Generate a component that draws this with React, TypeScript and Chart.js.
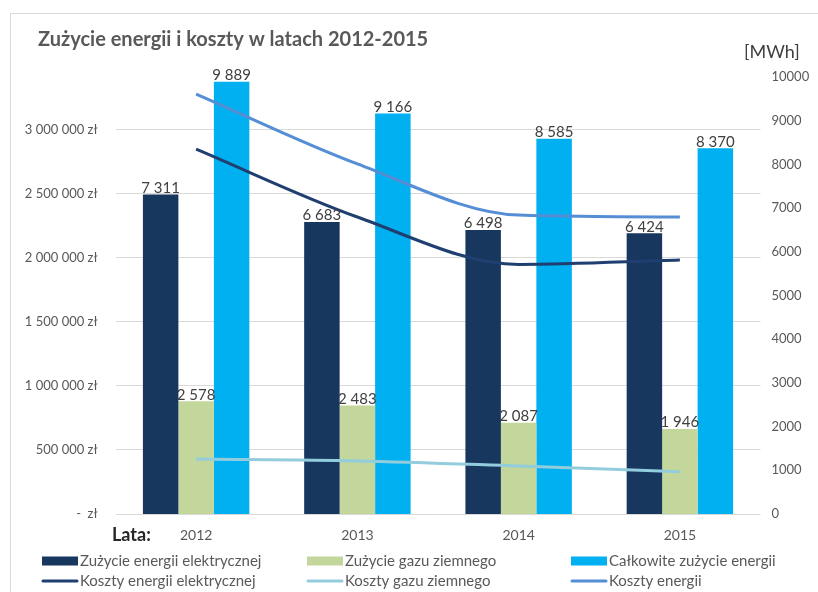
import React, { useEffect, useRef } from 'react';
import { Chart, registerables } from 'chart.js';

Chart.register(...registerables);

const years = ['2012', '2013', '2014', '2015'];
const elecUse = [7311, 6683, 6498, 6424];
const gasUse = [2578, 2483, 2087, 1946];
const totalUse = [9889, 9166, 8585, 8370];
const elecCost = [2850000, 2320000, 1950000, 1985000];
const gasCost = [430000, 415000, 375000, 330000];
const totalCost = [3280000, 2735000, 2335000, 2320000];
const costTicks = [0, 500000, 1000000, 1500000, 2000000, 2500000, 3000000];

const title = 'Zużycie energii i koszty w latach 2012-2015';
const unitLabel = '[MWh]';
const xLabel = 'Lata:';

const FONT = 'Lato, "Liberation Sans", sans-serif';
const TXT = '#595959';

const C_ELEC = '#17375E';
const C_GAS = '#C3D69B';
const C_TOTAL = '#00B0F0';
const C_LELEC = '#1F3F70';
const C_LGAS = '#93CDDD';
const C_LTOTAL = '#558ED5';

const fmtSpace = (n: number) => String(Math.round(n)).replace(/\B(?=(\d{3})+(?!\d))/g, ' ');

const decorPlugin = {
  id: 'decor',
  beforeDraw(chart: any) {
    const ctx = chart.ctx;
    ctx.save();
    ctx.fillStyle = '#ffffff';
    ctx.fillRect(0, 0, chart.width, chart.height);
    ctx.strokeStyle = '#d9d9d9';
    ctx.lineWidth = 1;
    ctx.beginPath();
    ctx.moveTo(10.5, chart.height + 5);
    ctx.lineTo(10.5, 13.5);
    ctx.lineTo(chart.width + 5, 13.5);
    ctx.stroke();
    ctx.restore();
  },
  afterDraw(chart: any) {
    const ctx = chart.ctx;
    ctx.save();
    // title
    ctx.fillStyle = TXT;
    ctx.font = `bold 20px ${FONT}`;
    ctx.textAlign = 'left';
    ctx.textBaseline = 'middle';
    ctx.fillText(title, 38, 40);
    // unit label
    ctx.font = `18px ${FONT}`;
    ctx.fillStyle = '#404040';
    ctx.fillText(unitLabel, 744, 52);
    // x label
    ctx.font = `bold 18px ${FONT}`;
    ctx.fillStyle = '#262626';
    ctx.fillText(xLabel, 112, 535);

    // data labels on bars
    ctx.font = `15px ${FONT}`;
    ctx.fillStyle = '#404040';
    ctx.textAlign = 'center';
    ctx.textBaseline = 'bottom';
    chart.data.datasets.forEach((ds: any, di: number) => {
      if (ds.type === 'line') return;
      const meta = chart.getDatasetMeta(di);
      meta.data.forEach((el: any, i: number) => {
        ctx.fillText(fmtSpace(ds.data[i]), el.x, el.y + 1);
      });
    });

    // legend
    const cols = [42, 307, 571];
    const rows = [561, 581];
    const boxW = 36;
    ctx.font = `15px ${FONT}`;
    ctx.textAlign = 'left';
    ctx.textBaseline = 'middle';
    chart.data.datasets.forEach((ds: any, di: number) => {
      const col = di % 3;
      const row = Math.floor(di / 3);
      const x = cols[col];
      const y = rows[row];
      if (ds.type === 'line') {
        ctx.strokeStyle = ds.borderColor;
        ctx.lineWidth = 3;
        ctx.lineCap = 'round';
        ctx.beginPath();
        ctx.moveTo(x + 1, y);
        ctx.lineTo(x + boxW - 1, y);
        ctx.stroke();
      } else {
        ctx.fillStyle = ds.backgroundColor;
        ctx.fillRect(x, y - 4.5, boxW, 9);
      }
      ctx.fillStyle = TXT;
      ctx.fillText(ds.label, x + boxW + 2, y);
    });
    ctx.restore();
  },
};

export default function App() {
  const ref = useRef<HTMLCanvasElement | null>(null);

  useEffect(() => {
    if (!ref.current) return;
    const lineOpts = { borderWidth: 3, pointRadius: 0, cubicInterpolationMode: 'monotone', yAxisID: 'y', order: 1 };
    const chart = new Chart(ref.current, {
      type: 'bar',
      data: {
        labels: years,
        datasets: [
          { type: 'bar', label: 'Zużycie energii elektrycznej', data: elecUse, backgroundColor: C_ELEC, yAxisID: 'y1', order: 2 },
          { type: 'bar', label: 'Zużycie gazu ziemnego', data: gasUse, backgroundColor: C_GAS, yAxisID: 'y1', order: 2 },
          { type: 'bar', label: 'Całkowite zużycie energii', data: totalUse, backgroundColor: C_TOTAL, yAxisID: 'y1', order: 2 },
          { type: 'line', label: 'Koszty energii elektrycznej', data: elecCost, borderColor: C_LELEC, backgroundColor: C_LELEC, ...lineOpts },
          { type: 'line', label: 'Koszty gazu ziemnego', data: gasCost, borderColor: C_LGAS, backgroundColor: C_LGAS, ...lineOpts },
          { type: 'line', label: 'Koszty energii', data: totalCost, borderColor: C_LTOTAL, backgroundColor: C_LTOTAL, ...lineOpts },
        ] as any,
      },
      options: {
        responsive: false,
        animation: false,
        devicePixelRatio: 1,
        layout: { padding: { left: 0, right: 0, top: 77, bottom: 0 } },
        plugins: {
          legend: { display: false },
          title: { display: false },
          tooltip: { enabled: false },
        },
        datasets: {
          bar: { categoryPercentage: 0.66, barPercentage: 1 },
        } as any,
        scales: {
          x: {
            offset: true,
            grid: { display: false, drawTicks: false },
            border: { display: false },
            ticks: { color: TXT, font: { family: FONT, size: 14 }, padding: 13 },
            afterFit: (s: any) => { s.height = 78; },
          },
          y: {
            position: 'left',
            min: 0,
            max: 3414000,
            grid: { color: '#d9d9d9', lineWidth: 1, drawTicks: false },
            border: { display: false },
            afterBuildTicks: (s: any) => { s.ticks = costTicks.map((v) => ({ value: v })); },
            ticks: {
              color: TXT,
              font: { family: FONT, size: 13 },
              padding: 18,
              callback: (v: any) => (Number(v) === 0 ? '-  zł' : fmtSpace(Number(v)) + ' zł'),
            },
            afterFit: (s: any) => { s.width = 115.5; },
          },
          y1: {
            position: 'right',
            min: 0,
            max: 10000,
            grid: { display: false, drawTicks: false },
            border: { display: false },
            ticks: {
              stepSize: 1000,
              color: TXT,
              font: { family: FONT, size: 13 },
              padding: 11,
              callback: (v: any) => String(v),
            },
            afterFit: (s: any) => { s.width = 57.5; },
          },
        },
      } as any,
      plugins: [decorPlugin],
    });
    return () => chart.destroy();
  }, []);

  return (
    <div style={{ position: 'fixed', left: 0, top: 0, width: 818, height: 592, background: '#fff' }}>
      <canvas ref={ref} width={818} height={592} style={{ display: 'block' }} />
    </div>
  );
}
